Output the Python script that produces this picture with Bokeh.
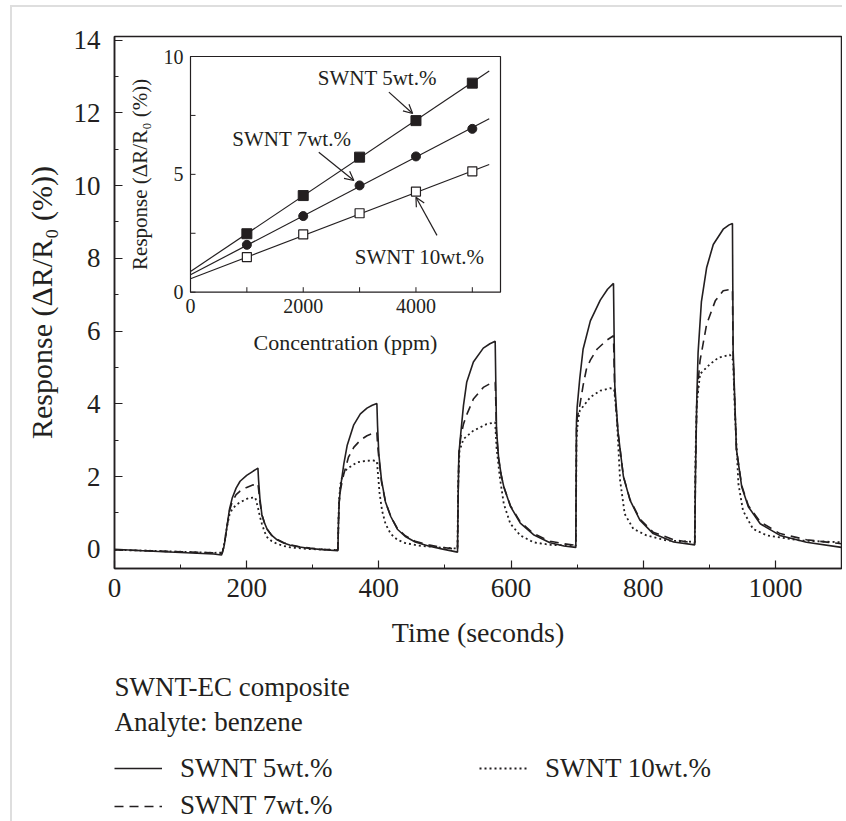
import math
from bokeh.plotting import figure
from bokeh.models import (Range1d, FixedTicker, Legend, LegendItem, Arrow, OpenHead,
                          Label, BoxAnnotation)
from bokeh.layouts import column
from bokeh.core.properties import value
from bokeh.embed import file_html
from bokeh.resources import INLINE

FONT = "Liberation Serif"
INK = "#231f20"

# ---------------- main chart data ----------------
t_5wt = [0, 50, 100, 150, 162, 166, 170, 174, 178, 184, 190, 200, 210, 217,
         218, 220, 223, 227, 231, 238, 246, 256, 266, 280, 296, 315, 338,
         339, 340, 342, 347, 352, 362, 372, 382, 390, 397,
         398, 400, 404, 410, 418, 428, 440, 455, 475, 495, 519,
         520, 521, 524, 528, 533, 543, 558, 568, 576,
         577, 578, 581, 585, 589, 599, 614, 634, 659, 680, 698,
         699, 700, 704, 709, 720, 735, 746, 755,
         756, 757, 762, 770, 780, 795, 815, 846, 878,
         879, 881, 883, 888, 896, 906, 921, 930, 935,
         936, 941, 949, 959, 977, 1007, 1047, 1100]
r_5wt = [0.0, -0.05, -0.09, -0.13, -0.16, 0.1, 0.6, 1.1, 1.4, 1.68, 1.87, 2.03, 2.15, 2.23,
         1.9, 1.4, 0.95, 0.72, 0.55, 0.38, 0.26, 0.17, 0.11, 0.06, 0.02, -0.01, -0.04,
         0.8, 1.3, 1.7, 2.35, 2.85, 3.42, 3.72, 3.88, 3.96, 4.01,
         3.4, 2.6, 1.9, 1.3, 0.9, 0.55, 0.35, 0.2, 0.09, 0.01, -0.08,
         1.5, 2.6, 3.2, 3.95, 4.6, 5.15, 5.53, 5.65, 5.72,
         4.5, 3.3, 2.55, 2.05, 1.72, 1.18, 0.72, 0.4, 0.18, 0.09, 0.05,
         3.5, 3.9, 4.7, 5.5, 6.28, 6.85, 7.15, 7.31,
         5.8, 4.5, 3.2, 2.0, 1.35, 0.8, 0.43, 0.2, 0.12,
         2.0, 4.1, 5.4, 6.8, 7.75, 8.38, 8.8, 8.92, 8.96,
         5.5, 2.75, 1.72, 1.17, 0.7, 0.38, 0.19, 0.05]

t_7wt = [0, 50, 100, 150, 163, 166, 170, 174, 178, 184, 190, 200, 210, 217,
         218, 220, 223, 227, 231, 238, 246, 256, 266, 280, 296, 315, 338,
         339, 340, 342, 347, 354, 362, 372, 382, 390, 397,
         398, 400, 404, 410, 418, 428, 440, 455, 475, 495, 519,
         520, 521, 524, 528, 533, 543, 558, 568, 576,
         577, 578, 581, 585, 589, 599, 614, 634, 659, 680, 698,
         699, 700, 704, 709, 714, 720, 730, 745, 755,
         756, 757, 762, 770, 780, 795, 815, 846, 878,
         879, 881, 883, 886, 896, 909, 921, 935,
         936, 941, 949, 959, 977, 1007, 1047, 1100]
r_7wt = [-0.02, -0.04, -0.07, -0.1, -0.11, 0.1, 0.6, 1.05, 1.3, 1.5, 1.6, 1.7, 1.77, 1.81,
         1.65, 1.3, 0.95, 0.72, 0.55, 0.38, 0.27, 0.18, 0.12, 0.07, 0.03, 0.0, -0.02,
         0.8, 1.3, 1.65, 2.07, 2.53, 2.8, 3.0, 3.12, 3.18, 3.21,
         2.9, 2.5, 1.85, 1.3, 0.9, 0.57, 0.37, 0.22, 0.12, 0.05, 0.0,
         1.5, 2.6, 3.1, 3.44, 3.7, 4.13, 4.45, 4.55, 4.59,
         4.0, 3.2, 2.5, 2.05, 1.72, 1.2, 0.75, 0.43, 0.22, 0.15, 0.11,
         3.4, 3.6, 3.95, 4.5, 4.95, 5.2, 5.5, 5.75, 5.87,
         5.0, 4.3, 3.2, 2.0, 1.37, 0.83, 0.47, 0.26, 0.17,
         2.0, 4.0, 4.6, 5.19, 6.19, 6.83, 7.11, 7.15,
         5.3, 2.75, 1.75, 1.2, 0.75, 0.43, 0.26, 0.15]

t_10wt = [0, 50, 100, 150, 163, 166, 170, 174, 178, 184, 190, 203, 213,
          217, 220, 223, 227, 231, 238, 246, 256, 266, 290, 315, 338,
          339, 340, 342, 346, 352, 367, 380, 392, 397,
          399, 401, 405, 410, 418, 428, 440, 460, 490, 519,
          520, 522, 528, 543, 563, 576,
          578, 583, 589, 599, 614, 634, 660, 698,
          699, 701, 704, 720, 735, 750, 756,
          760, 765, 772, 785, 805, 836, 878,
          879, 881, 886, 901, 914, 931, 936,
          939, 944, 951, 966, 987, 1037, 1100]
r_10wt = [-0.02, -0.04, -0.07, -0.1, -0.09, 0.15, 0.6, 0.95, 1.1, 1.22, 1.29, 1.41, 1.42,
          1.15, 0.9, 0.7, 0.48, 0.33, 0.22, 0.15, 0.09, 0.05, 0.01, -0.01, -0.02,
          0.9, 1.4, 1.8, 2.1, 2.21, 2.39, 2.43, 2.44, 2.42,
          2.0, 1.55, 1.05, 0.7, 0.42, 0.26, 0.17, 0.1, 0.05, 0.02,
          1.8, 2.7, 3.03, 3.26, 3.44, 3.49,
          2.8, 1.98, 1.25, 0.7, 0.38, 0.19, 0.12, 0.1,
          3.0, 3.5, 3.81, 4.18, 4.36, 4.43, 4.4,
          3.63, 1.89, 0.97, 0.56, 0.38, 0.24, 0.2,
          2.5, 4.0, 4.82, 5.09, 5.27, 5.35, 5.2,
          3.63, 1.8, 1.06, 0.56, 0.38, 0.24, 0.19]

main_xticks = [0, 200, 400, 600, 800, 1000]
main_xminor = [100, 300, 500, 700, 900]
main_yticks = [0, 2, 4, 6, 8, 10, 12, 14]
main_yminor = [1, 3, 5, 7, 9, 11, 13]

series_labels = ["SWNT 5wt.%", "SWNT 7wt.%", "SWNT 10wt.%"]
caption_lines = ["SWNT-EC composite", "Analyte: benzene"]

# ---------------- inset data ----------------
conc_ppm = [1000, 2000, 3000, 4000, 5000]
resp_5wt = [2.48, 4.10, 5.73, 7.28, 8.87]
resp_7wt = [2.01, 3.23, 4.53, 5.76, 6.93]
resp_10wt = [1.49, 2.45, 3.35, 4.27, 5.13]
fit_x = [0, 5300]
fit_5wt = [0.88, 9.38]
fit_7wt = [0.74, 7.36]
fit_10wt = [0.57, 5.42]
inset_xticks = [0, 2000, 4000]
inset_xminor = [1000, 3000, 5000]
inset_yticks = [0, 5, 10]
inset_yminor = [2.5, 7.5]
INSET_X = (0, 5500)
INSET_Y = (0, 10)

# ---------------- layout (pixels) ----------------
W = 842
H1, H2 = 668, 153            # main chart, caption/legend strip
FL, FT, FR, FB = 114, 36, 1, 100
FW, FH = W - FL - FR, H1 - FT - FB
MAIN_X = (0, 1100)
MAIN_Y = (-0.53, 14.1)
# inset box inside the main frame, px from frame left / frame top
IB_L, IB_R, IB_T, IB_B = 76, 386, 20, 255.7

SOLID = dict(line_color=INK, line_width=1.6)
DASHED = dict(line_color=INK, line_width=1.6, line_dash="9 6")
DOTTED = dict(line_color=INK, line_width=1.8, line_dash="2 3")

p = figure(width=W, height=H1, x_range=Range1d(*MAIN_X), y_range=Range1d(*MAIN_Y),
           output_backend="svg", toolbar_location=None,
           min_border_left=FL, min_border_top=FT, min_border_right=FR, min_border_bottom=FB)
p.xgrid.visible = False
p.ygrid.visible = False
p.border_fill_color = None
p.outline_line_color = INK
p.outline_line_width = 1.5
p.outline_line_alpha = 1.0

p.line(t_5wt, r_5wt, **SOLID)
p.line(t_7wt, r_7wt, **DASHED)
p.line(t_10wt, r_10wt, **DOTTED)

p.xaxis.ticker = FixedTicker(ticks=main_xticks, minor_ticks=main_xminor)
p.yaxis.ticker = FixedTicker(ticks=main_yticks, minor_ticks=main_yminor)
p.xaxis.axis_label = "Time (seconds)"
p.yaxis.axis_label = "Response (ΔR/R₀ (%))"
for ax in (p.xaxis, p.yaxis):
    ax.axis_line_color = INK
    ax.axis_line_width = 1.5
    ax.major_tick_line_color = INK
    ax.minor_tick_line_color = INK
    ax.major_tick_line_width = 1.2
    ax.minor_tick_line_width = 1.0
    ax.major_tick_in = 8
    ax.major_tick_out = 0
    ax.minor_tick_in = 4
    ax.minor_tick_out = 0
    ax.major_label_text_font = FONT
    ax.major_label_text_font_size = "27px"
    ax.major_label_text_color = INK
    ax.axis_label_text_font = FONT
    ax.axis_label_text_font_style = "normal"
    ax.axis_label_text_color = INK
p.xaxis.axis_label_text_font_size = "28px"
p.yaxis.axis_label_text_font_size = "30px"
p.xaxis.major_label_standoff = 10
p.xaxis.axis_label_standoff = 17
p.yaxis.major_label_standoff = 14
p.yaxis.axis_label_standoff = 13

# ---------------- inset drawn on its own ranges inside the frame ----------------
ux = (INSET_X[1] - INSET_X[0]) / (IB_R - IB_L)
uy = (INSET_Y[1] - INSET_Y[0]) / (IB_B - IB_T)
p.extra_x_ranges = {"ix": Range1d(INSET_X[0] - IB_L * ux, INSET_X[1] + (FW - IB_R) * ux)}
p.extra_y_ranges = {"iy": Range1d(INSET_Y[0] - (FH - IB_B) * uy, INSET_Y[1] + IB_T * uy)}
IR = dict(x_range_name="ix", y_range_name="iy")

p.add_layout(BoxAnnotation(left=INSET_X[0], right=INSET_X[1], bottom=INSET_Y[0], top=INSET_Y[1],
                           fill_color=None, line_color=INK, line_width=1.2, line_alpha=1.0, **IR))

p.line(fit_x, fit_5wt, line_color=INK, line_width=1.2, **IR)
p.line(fit_x, fit_7wt, line_color=INK, line_width=1.2, **IR)
p.line(fit_x, fit_10wt, line_color=INK, line_width=1.2, **IR)
p.scatter(conc_ppm, resp_5wt, marker="square", size=10, fill_color=INK, line_color=INK, **IR)
p.scatter(conc_ppm, resp_7wt, marker="circle", size=9, fill_color=INK, line_color=INK, **IR)
p.scatter(conc_ppm, resp_10wt, marker="square", size=9, fill_color="white",
          line_color=INK, line_width=1.2, **IR)

TK = 5
xt_all = inset_xticks + inset_xminor
yt_all = inset_yticks + inset_yminor
p.segment(x0=xt_all, y0=[INSET_Y[0]] * len(xt_all), x1=xt_all, y1=[INSET_Y[0] + TK * uy] * len(xt_all),
          line_color=INK, line_width=1.0, **IR)
p.segment(x0=[INSET_X[0]] * len(yt_all), y0=yt_all, x1=[INSET_X[0] + TK * ux] * len(yt_all), y1=yt_all,
          line_color=INK, line_width=1.0, **IR)
p.text(x=inset_xticks, y=[INSET_Y[0]] * len(inset_xticks), text=[str(v) for v in inset_xticks],
       text_font=value(FONT), text_font_size="20px", text_color=INK, text_align="center",
       text_baseline="top", y_offset=7, **IR)
p.text(x=[INSET_X[0]] * len(inset_yticks), y=inset_yticks, text=[str(v) for v in inset_yticks],
       text_font=value(FONT), text_font_size="20px", text_color=INK, text_align="right",
       text_baseline="middle", x_offset=-7, **IR)
p.text(x=[(INSET_X[0] + INSET_X[1]) / 2], y=[INSET_Y[0]], text=["Concentration (ppm)"],
       text_font=value(FONT), text_font_size="22px", text_color=INK, text_align="center",
       text_baseline="middle", y_offset=50, **IR)
p.text(x=[INSET_X[0]], y=[(INSET_Y[0] + INSET_Y[1]) / 2], text=["Response (ΔR/R₀ (%))"],
       text_font=value(FONT), text_font_size="21px", text_color=INK, text_align="center",
       text_baseline="middle", angle=math.pi / 2, x_offset=-51, **IR)

arrow_specs = [(3520, 8.49, 3941, 7.58), (2276, 5.94, 2898, 4.74), (4373, 2.41, 4000, 4.03)]
for xs, ys, xe, ye in arrow_specs:
    p.add_layout(Arrow(end=OpenHead(size=9, line_width=1.2, line_color=INK),
                       x_start=xs, y_start=ys, x_end=xe, y_end=ye,
                       line_width=1.2, line_color=INK, **IR))
label_pos = [(2258, 9.08), (741, 6.52), (2916, 1.48)]
for (lx, ly), txt in zip(label_pos, series_labels):
    p.add_layout(Label(x=lx, y=ly, text=txt, text_font=FONT, text_font_size="21px",
                       text_baseline="middle", text_align="left", text_color=INK, **IR))

# ---------------- caption + legend strip (pixel units, y from strip top) ----------------
q = figure(width=W, height=H2, x_range=Range1d(0, W - FL - FR), y_range=Range1d(H2, 0),
           output_backend="svg", toolbar_location=None,
           min_border_left=FL, min_border_top=0, min_border_right=FR, min_border_bottom=0)
q.axis.visible = False
q.grid.visible = False
q.outline_line_color = None
q.border_fill_color = None

for txt, cy in zip(caption_lines, [18, 53.5]):
    q.add_layout(Label(x=0, y=cy, text=txt, text_font=FONT, text_font_size="27px",
                       text_baseline="middle", text_align="left", text_color=INK))

# legend keys: off-screen stand-ins carrying the three line styles
off = [-500, -400]
k5 = q.line(off, off, **SOLID)
k7 = q.line(off, off, **DASHED)
k10 = q.line(off, off, **DOTTED)
leg_kw = dict(orientation="horizontal", margin=0, padding=0, spacing=7,
              glyph_width=48, glyph_height=30, label_height=30, label_width=292,
              label_standoff=18, border_line_color=None, background_fill_alpha=0,
              label_text_font=FONT, label_text_font_size="27px", label_text_color=INK)
row1_center, row2_center, row_h = 100.6, 138, 30
legA = Legend(items=[LegendItem(label=series_labels[0], renderers=[k5]),
                     LegendItem(label=series_labels[2], renderers=[k10])],
              location=(0, H2 - row1_center - row_h / 2), **leg_kw)
legB = Legend(items=[LegendItem(label=series_labels[1], renderers=[k7])],
              location=(0, H2 - row2_center - row_h / 2), **leg_kw)
q.add_layout(legA)
q.add_layout(legB)

page = column(p, q, styles={
    "background": "linear-gradient(#dedede, #dedede) 10px 5px / 2px 100% no-repeat, "
                  "linear-gradient(#dedede, #dedede) 10px 5px / 100% 2px no-repeat, white"})
open("out.html", "w").write(file_html(page, INLINE))
